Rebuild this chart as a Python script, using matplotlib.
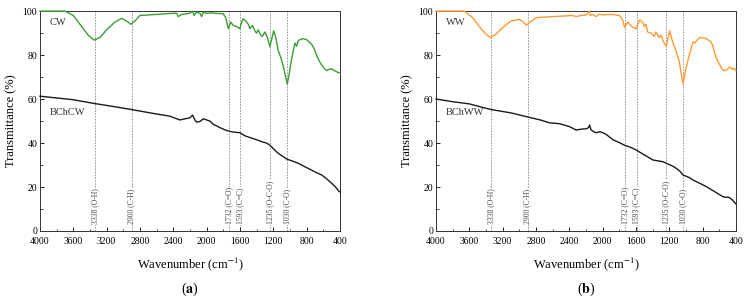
import numpy as np
import matplotlib.pyplot as plt

plt.rcParams['font.family'] = ['Liberation Serif', 'DejaVu Serif']
plt.rcParams['mathtext.fontset'] = 'stix'

# CW raw wood spectrum
cw_wn = [4000, 3800, 3700, 3600, 3500, 3420, 3350, 3280, 3200, 3100, 3020, 2960, 2910,
         2860, 2800, 2600, 2400, 2360, 2340, 2300, 2200, 2170, 2150, 2120, 2080, 2060,
         2040, 2000, 1950, 1900, 1800, 1770, 1740, 1710, 1680, 1640, 1600, 1580, 1560,
         1530, 1500, 1480, 1450, 1420, 1400, 1380, 1350, 1330, 1300, 1270, 1240, 1220,
         1195, 1170, 1140, 1110, 1080, 1050, 1032, 1010, 990, 960, 940, 920, 900, 880,
         840, 800, 770, 740, 710, 680, 650, 620, 590, 560, 530, 500, 470, 440, 420, 400]
cw_tr = [100, 100, 100, 98, 93, 89, 86.8, 88, 91.5, 95, 96.7, 95.5, 94,
         95.5, 98, 98.5, 99, 99, 97.5, 98.5, 99, 100, 98, 99.5, 99, 97.5,
         99.5, 99, 99.2, 99, 98.8, 97, 92, 95, 93.5, 93, 92, 95, 96.5,
         95.5, 94, 92, 93.5, 91, 90, 91.5, 89, 88.5, 90.5, 88, 83.8, 87,
         91, 88, 82, 79, 75, 70, 66.8, 71, 76, 82, 85.5, 84, 86.5, 87,
         87.5, 87, 86, 85, 83, 80, 77.5, 75.5, 74, 73, 73.5, 73.8, 73, 72.5, 72, 72]

# BChCW biochar spectrum
bcw_wn = [4000, 3800, 3600, 3350, 3100, 2910, 2750, 2600, 2450, 2320, 2260, 2200, 2168,
          2140, 2120, 2080, 2040, 2000, 1960, 1920, 1880, 1840, 1780, 1740, 1680, 1600,
          1540, 1480, 1400, 1330, 1280, 1240, 1200, 1160, 1120, 1080, 1032, 960, 900,
          820, 740, 680, 620, 560, 500, 460, 430, 408, 400]
bcw_tr = [61.3, 60.5, 59.7, 58, 56.5, 55.3, 54.2, 53.2, 52.3, 50.5, 51, 51.5, 52.7,
          50.5, 49.5, 49.8, 51, 50.5, 50, 48.5, 47.8, 47, 46, 45.5, 45, 44.7,
          43.3, 42.5, 41.5, 40.5, 40, 39, 37.5, 36, 34.8, 33.8, 32.6, 31.7, 30.8,
          29.2, 27.7, 26.5, 25.5, 23.8, 21.7, 20.3, 19, 17.9, 17.8]

# WW raw wood spectrum
ww_wn = [4000, 3800, 3660, 3560, 3460, 3400, 3348, 3280, 3200, 3100, 2996, 2950, 2916,
         2870, 2800, 2600, 2360, 2320, 2260, 2200, 2160, 2150, 2120, 2080, 2040, 2000,
         1900, 1796, 1760, 1736, 1700, 1650, 1600, 1556, 1520, 1500, 1480, 1460, 1420,
         1380, 1360, 1320, 1300, 1270, 1236, 1196, 1160, 1120, 1080, 1036, 1000, 960,
         916, 896, 836, 756, 700, 676, 640, 600, 556, 520, 476, 440, 420, 400]
ww_tr = [100, 100, 100, 97, 92, 89.5, 88, 89.5, 92.5, 95.5, 96.2, 95, 93.6,
         95, 97, 97.5, 98, 97.5, 98, 98.2, 100, 98, 98.5, 97.5, 98.6, 98.3,
         98.5, 98, 96, 92.5, 95, 93, 92, 96, 95, 93, 94, 90.5, 90,
         88.5, 90.5, 88, 89, 86, 84, 91, 86, 82, 77, 67.1, 74, 80,
         86, 85.5, 88, 87.5, 86, 84, 79, 76, 73, 73, 74.5, 73.5, 74, 73]

# BChWW biochar spectrum
bww_wn = [4000, 3800, 3600, 3348, 3100, 2916, 2750, 2636, 2516, 2400, 2316, 2260, 2196,
          2170, 2156, 2140, 2100, 2070, 2036, 2000, 1960, 1876, 1800, 1736, 1660, 1596,
          1500, 1396, 1276, 1236, 1160, 1116, 1076, 1036, 960, 916, 840, 756, 660,
          556, 520, 496, 470, 440, 400]
bww_tr = [60, 58.8, 57.8, 55.3, 53.7, 52, 50.5, 49.2, 48.8, 47.5, 45.9, 46.3, 46.5,
          47, 48.2, 46, 45, 44.7, 45.2, 44.7, 44, 41.5, 40.2, 39, 38, 36.8,
          34.6, 32.3, 31.5, 30.8, 29.5, 28.5, 27.3, 25.5, 24.3, 23.2, 21.8, 20.2, 18,
          15.6, 15.3, 15.4, 15, 14, 12.3]

band_wn = [3338, 2900, 1732, 1593, 1235, 1030]
band_labels = ['3338 (O-H)', '2900 (C-H)', '1732 (C=O)', '1593 (C=C)', '1235 (O-C-O)', '1030 (C-O)']

panels = [
    (cw_wn, cw_tr, '#3a9e34', 'CW', bcw_wn, bcw_tr, 'BChCW', 'a'),
    (ww_wn, ww_tr, '#ff9a2e', 'WW', bww_wn, bww_tr, 'BChWW', 'b'),
]

fig = plt.figure(figsize=(7.46, 3.0), dpi=100)
lefts = [0.0536, 0.5845]

for left, (wn1, tr1, col, lab1, wn2, tr2, lab2, letter) in zip(lefts, panels):
    ax = fig.add_axes([left, 0.23, 0.402, 0.733])
    for w, t in zip(band_wn, band_labels):
        ax.axvline(w, color='#888888', ls=(0, (2, 1.5)), lw=0.6, zorder=1)
        ax.text(w, 3, t, rotation=90, ha='center', va='bottom', fontsize=5.5,
                color='#444444', zorder=2,
                bbox=dict(facecolor='white', edgecolor='none', pad=0.5))
    ax.plot(wn1, tr1, color=col, lw=1.0, zorder=3, clip_on=False)
    ax.plot(wn2, tr2, color='#1a1a1a', lw=1.0, zorder=3, clip_on=False)
    ax.text(3880, 95, lab1, fontsize=7.5, color='#333333', va='center')
    ax.text(3880, 54, lab2, fontsize=7.5, color='#333333', va='center')
    ax.set_xlim(4000, 400)
    ax.set_ylim(0, 100)
    ax.set_xticks(np.arange(4000, 399, -400))
    ax.set_xticks(np.arange(3800, 399, -400), minor=True)
    ax.set_yticks(np.arange(0, 101, 20))
    ax.set_yticks(np.arange(10, 100, 20), minor=True)
    ax.tick_params(direction='in', labelsize=7, length=3, width=0.6, pad=2)
    ax.tick_params(axis='x', pad=4)
    ax.tick_params(which='minor', direction='in', length=1.8, width=0.5)
    for s in ax.spines.values():
        s.set_linewidth(0.7)
        s.set_color('#333333')
    ax.set_xlabel('Wavenumber (cm$^{-1}$)', fontsize=9, labelpad=7)
    ax.set_ylabel('Transmittance (%)', fontsize=9, labelpad=4)
    fig.text(left + 0.201, 0.035, r'($\mathbf{' + letter + r'}$)', ha='center',
             va='center', fontsize=10)

fig.savefig('out.png', dpi=100)
